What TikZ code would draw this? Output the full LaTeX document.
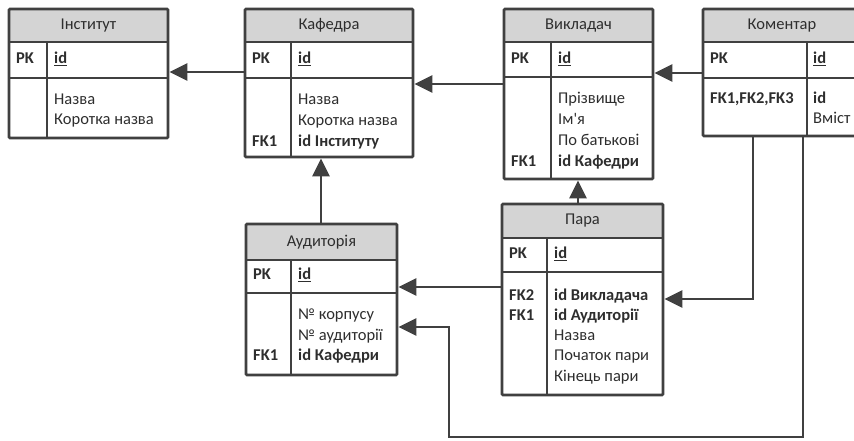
\documentclass[tikz,border=0pt]{standalone}
\usepackage{fontspec}
\setmainfont{Carlito}
\newfontfamily\nomap{Carlito}
\usetikzlibrary{arrows.meta,fit,calc}
\definecolor{lineC}{HTML}{404040}
\definecolor{hdrC}{HTML}{D4D4D4}
\definecolor{txtC}{HTML}{2E2E2E}
\tikzset{
  tblbox/.style={draw=lineC, line width=2.8pt, inner sep=0pt, rounded corners=1pt},
  innerln/.style={draw=lineC, line width=2.2pt},
  hdrfill/.style={fill=hdrC},
  hdrtxt/.style={text=txtC, font=\fontsize{16.5}{20}\selectfont, inner sep=0pt},
  fld/.style={text=txtC, font=\fontsize{16.5}{20}\selectfont, inner sep=0pt, anchor=west, text height=11.5pt, text depth=3.8pt},
  fldb/.style={fld, font=\fontsize{16.5}{20}\selectfont\bfseries},
  conn/.style={draw=lineC, line width=2.8pt, -{Triangle[length=18pt,width=17pt]}},
}
\newcommand\erdtab[9]{%
  \fill[hdrfill] (#2,#3) rectangle (#4,#6);
  \draw[innerln] (#2,#6) -- (#4,#6) (#2,#7) -- (#4,#7) (#8,#6) -- (#8,#5);
  \node[tblbox, fit={(#2,#3) (#4,#5)}] (#1) {};
  \node[hdrtxt] (#1-t) at ($(#2,#3)!0.5!(#4,#6)$) {#9};
}
\begin{document}
\begin{tikzpicture}[x=1pt,y=-1pt]
\useasboundingbox (0,0) rectangle (854,441);
\clip (0,0) rectangle (854,441);
\fill[white] (0,0) rectangle (854,441);

% Інститут
\erdtab{inst}{9}{9}{168}{138}{42}{78}{47}{Інститут}
\node[fldb] (inst-pk) at (16,60) {PK};
\node[fldb] (inst-id) at (54,60) {\underline{id}};
\node[fld] (inst-f1) at (54,101) {Назва};
\node[fld] (inst-f2) at (54,121) {Коротка назва};

% Кафедра
\erdtab{kaf}{245}{9}{413}{157}{42}{78}{291}{Кафедра}
\node[fldb] (kaf-pk) at (252,60) {PK};
\node[fldb] (kaf-id) at (298,60) {\underline{id}};
\node[fld] (kaf-f1) at (298,101) {Назва};
\node[fld] (kaf-f2) at (298,122) {Коротка назва};
\node[fldb] (kaf-f3) at (298,143) {id Інституту};
\node[fldb] (kaf-fk) at (252,143) {FK1};

% Викладач
\erdtab{vyk}{504}{9}{653}{179}{42}{77}{551}{Викладач}
\node[fldb] (vyk-pk) at (511,60) {PK};
\node[fldb] (vyk-id) at (558,60) {\underline{id}};
\node[fld] (vyk-f1) at (558,100) {Прізвище};
\node[fld] (vyk-f2) at (558,121) {Ім{\nomap '}я};
\node[fld] (vyk-f3) at (558,142) {По батькові};
\node[fldb] (vyk-f4) at (558,163) {id Кафедри};
\node[fldb] (vyk-fk) at (511,163) {FK1};

% Коментар
\erdtab{kom}{703}{9}{861}{136}{42}{78}{807}{Коментар}
\node[fldb] (kom-pk) at (710,60) {PK};
\node[fldb] (kom-id) at (813,60) {\underline{id}};
\node[fldb] (kom-fk) at (710,100) {FK1,FK2,FK3};
\node[fldb] (kom-f1) at (813,100) {id};
\node[fld] (kom-f2) at (813,120) {Вміст};

% Пара
\erdtab{para}{502}{204}{663}{395}{238}{272}{547}{Пара}
\node[fldb] (para-pk) at (509,255) {PK};
\node[fldb] (para-id) at (554,255) {\underline{id}};
\node[fldb] (para-f1) at (554,297) {id Викладача};
\node[fldb] (para-f2) at (554,317) {id Аудиторії};
\node[fld] (para-f3) at (554,337) {Назва};
\node[fld] (para-f4) at (554,357) {Початок пари};
\node[fld] (para-f5) at (554,378) {Кінець пари};
\node[fldb] (para-fk2) at (509,297) {FK2};
\node[fldb] (para-fk1) at (509,317) {FK1};

% Аудиторія
\erdtab{aud}{246}{224}{397}{375}{260}{293}{291}{Аудиторія}
\node[fldb] (aud-pk) at (253,276) {PK};
\node[fldb] (aud-id) at (298,276) {\underline{id}};
\node[fld] (aud-f1) at (298,316) {№ корпусу};
\node[fld] (aud-f2) at (298,337) {№ аудиторії};
\node[fldb] (aud-f3) at (298,357) {id Кафедри};
\node[fldb] (aud-fk) at (253,357) {FK1};

% connectors
\coordinate (k1) at (753,437);
\coordinate (k2) at (803,437);
\coordinate (k3) at (449,437);
\draw[conn] (kaf.west |- 0,72) -- (inst.east |- 0,72);
\draw[conn] (vyk.west |- 0,84) -- (kaf.east |- 0,84);
\draw[conn] (kom.west |- 0,73) -- (vyk.east |- 0,73);
\draw[conn] (321,0 |- aud.north) -- (321,0 |- kaf.south);
\draw[conn] (578,0 |- para.north) -- (578,0 |- vyk.south);
\draw[conn] (para.west |- 0,287) -- (aud.east |- 0,287);
\draw[conn] (k1 |- kom.south) |- (para.east |- 0,299);
\draw[conn] (k2 |- kom.south) -- (k2) -- (k3) |- (aud.east |- 0,327);
\end{tikzpicture}
\end{document}
